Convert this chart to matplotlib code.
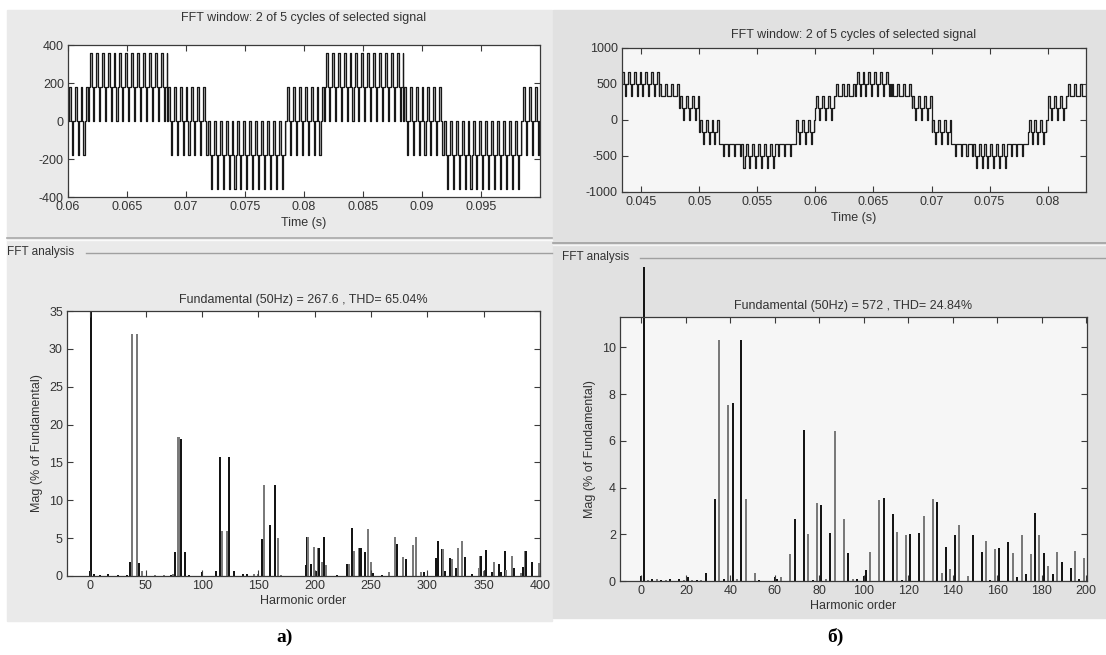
import numpy as np
import matplotlib
matplotlib.use("Agg")
import matplotlib.pyplot as plt
from matplotlib.patches import Rectangle
from matplotlib.lines import Line2D
from matplotlib.transforms import Bbox

W, H = 1106, 655

# ---- panel a) time signal: switching bands (s, V) ----
a_edges = [0.0600, 0.0618, 0.0684, 0.0718, 0.0785, 0.0818, 0.0884, 0.0918, 0.0985, 0.1000]
a_base = [0, 180, 0, -180, 0, 180, 0, -180, 0]
a_up = [180, 360, 180, 0, 180, 360, 180, 0, 180]
a_down = [-180, 0, -180, -360, -180, 0, -180, -360, -180]
a_carrier = 0.0005

# ---- panel b) time signal ----
b_edges = [0.0433, 0.0465, 0.0483, 0.0500, 0.0517, 0.0535, 0.0565, 0.0583, 0.0600,
           0.0617, 0.0635, 0.0665, 0.0683, 0.0700, 0.0717, 0.0735, 0.0765, 0.0783,
           0.0800, 0.0817, 0.0833]
b_base = [500, 330, 165, -165, -330, -500, -330, -165, 165, 330,
          500, 330, 165, -165, -330, -500, -330, -165, 165, 330]
b_up = [660, 500, 330, 0, -330, -330, -330, 0, 330, 500,
        660, 500, 330, 0, -330, -330, -330, 0, 330, 500]
b_down = [330, 330, 0, -330, -500, -660, -500, -330, 0, 330,
          330, 330, 0, -330, -500, -660, -500, -330, 0, 330]
b_carrier = 0.0005

# ---- panel a) spectrum (harmonic order, % of fundamental) ----
a_h = [0, 1, 4, 9, 16, 25, 33, 36, 38, 42, 44, 47, 58, 66, 72, 74, 76, 79, 81, 85, 88,
       100, 112, 116, 118, 122, 124, 128, 136, 140, 146, 150, 153, 155, 160, 165, 167, 170,
       192, 193, 194, 197, 199, 201, 203, 204, 206, 208, 210, 220, 229, 230, 233, 235,
       239, 240, 241, 245, 247, 250, 252, 260, 266, 271, 273, 278, 281, 287, 290, 294, 297,
       308, 309, 313, 314, 316, 320, 322, 325, 327, 331, 333, 340, 346, 347, 348, 350, 351,
       352, 357, 359, 364, 365, 369, 370, 375, 377, 383, 385, 387, 388, 393, 399]
a_mag = [0.6, 100, 0.2, 0.1, 0.2, 0.1, 0.1, 1.8, 32.0, 32.0, 1.7, 0.6, 0.1, 0.1, 0.1, 0.2, 3.2,
         18.3, 18.1, 3.2, 0.1, 0.5, 0.6, 15.7, 6.0, 6.0, 15.7, 0.6, 0.2, 0.2, 0.2, 0.2, 4.9,
         12.0, 6.7, 12.0, 5.0, 0.1, 1.4, 5.1, 5.1, 1.6, 3.8, 0.6, 3.7, 3.7, 1.8, 5.2, 1.4,
         0.1, 1.6, 1.6, 6.3, 3.3, 3.7, 3.7, 3.7, 3.2, 6.2, 1.8, 0.4, 0.1, 0.5, 5.2, 4.2,
         2.5, 2.3, 4.1, 5.2, 0.5, 0.5, 2.4, 4.6, 3.6, 3.6, 0.6, 2.4, 2.3, 1.0, 3.7, 4.6,
         2.5, 0.2, 1.0, 2.7, 2.7, 0.6, 0.8, 3.5, 0.5, 1.8, 1.6, 0.5, 3.3, 0.8, 2.7, 1.1,
         0.4, 1.2, 3.3, 3.3, 1.8, 1.7]

# ---- panel b) spectrum ----
b_h = [0, 1, 3, 5, 7, 9, 11, 13, 17, 19, 21, 23, 25, 27, 29, 33, 35, 37, 39, 41, 43, 45, 47,
       51, 53, 60, 61, 63, 67, 69, 73, 75, 77, 79, 81, 83, 85, 87, 91, 93, 95, 97, 100, 101,
       103, 107, 109, 113, 115, 117, 119, 121, 125, 127, 131, 133, 135, 137, 139, 141, 143,
       147, 149, 153, 155, 157, 159, 161, 165, 167, 169, 171, 173, 175, 177, 179, 181, 183,
       185, 187, 189, 193, 195, 197, 199]
b_mag = [0.2, 100, 0.05, 0.1, 0.1, 0.05, 0.05, 0.1, 0.1, 0.05, 0.15, 0.05, 0.05, 0.05, 0.35,
         3.5, 10.3, 0.1, 7.55, 7.6, 0.1, 10.3, 3.5, 0.35, 0.05, 0.15, 0.1, 0.15, 1.15, 2.65,
         6.45, 2.0, 0.05, 3.35, 3.25, 0.1, 2.05, 6.4, 2.65, 1.2, 0.1, 0.1, 0.2, 0.45, 1.25,
         3.45, 3.55, 2.85, 2.1, 0.05, 1.95, 2.0, 2.05, 2.8, 3.5, 3.4, 0.35, 1.45, 0.5, 1.95,
         2.4, 0.2, 1.95, 1.25, 1.7, 0.05, 1.35, 1.4, 1.65, 1.2, 0.15, 1.95, 0.3, 1.15, 2.9,
         1.95, 1.2, 0.65, 0.3, 1.25, 0.8, 0.55, 1.3, 0.1, 1.0]

TXT = "#333333"
plt.rcParams["font.family"] = ["Liberation Sans", "DejaVu Sans"]
plt.rcParams["axes.unicode_minus"] = False


def ax_rect(x0, y0, x1, y1):
    return [x0 / W, 1 - y1 / H, (x1 - x0) / W, (y1 - y0) / H]


def pulse_wave(edges, base, up, down, tc):
    ts, ys = [], []
    for t0, t1, b, u, d in zip(edges[:-1], edges[1:], base, up, down):
        t = t0
        while t < t1 - 1e-9:
            for frac, lvl in [(0.0, b), (0.12, u), (0.45, b), (0.62, d), (0.80, b)]:
                tt = t + frac * tc
                if tt < t1:
                    ts.append(tt)
                    ys.append(lvl)
            t += tc
    ts.append(edges[-1])
    ys.append(ys[-1])
    return np.array(ts), np.array(ys)


def base_line(edges, base, ts):
    idx = np.searchsorted(edges, ts, side="right") - 1
    idx = np.clip(idx, 0, len(base) - 1)
    return np.array(base)[idx]


def style(ax, face):
    ax.set_facecolor(face)
    for s in ax.spines.values():
        s.set_color("#3a3a3a")
        s.set_linewidth(0.9)
    ax.tick_params(direction="in", length=4, width=0.8, top=True, right=True,
                   colors="#3a3a3a", labelcolor=TXT, labelsize=9, pad=3)


def panel_bg(fig, x0, y0, x1, y1, color):
    fig.patches.append(Rectangle((x0 / W, 1 - y1 / H), (x1 - x0) / W, (y1 - y0) / H,
                                 transform=fig.transFigure, color=color, zorder=-10))


def hline(fig, x0, x1, y, color, lw=1.0):
    fig.lines.append(Line2D([x0 / W, x1 / W], [1 - y / H, 1 - y / H],
                            transform=fig.transFigure, color=color, lw=lw))


fig = plt.figure(figsize=(W / 100, H / 100), dpi=100)
fig.patch.set_facecolor("white")

panel_bg(fig, 7, 10, 552, 621, "#eaeaea")
panel_bg(fig, 553, 10, 1106, 618, "#e1e1e1")

# separators and "FFT analysis" frames
hline(fig, 7, 552, 238, "#a8a8a8", 1.2)
hline(fig, 7, 552, 240, "#fafafa", 1.0)
hline(fig, 553, 1106, 243, "#a0a0a0", 1.2)
hline(fig, 553, 1106, 245, "#f5f5f5", 1.0)
fig.text(7 / W, 1 - 252 / H, "FFT analysis", fontsize=8.5, color=TXT, va="center", ha="left")
hline(fig, 86, 552, 253, "#a0a0a0", 1.0)
fig.text(562 / W, 1 - 257 / H, "FFT analysis", fontsize=8.5, color=TXT, va="center", ha="left")
hline(fig, 640, 1106, 258, "#a0a0a0", 1.0)

# ---- a) time plot ----
ax1 = fig.add_axes(ax_rect(68, 45, 540, 197))
style(ax1, "white")
ta, ya = pulse_wave(a_edges, a_base, a_up, a_down, a_carrier)
ax1.fill_between(ta, ya, base_line(a_edges, a_base, ta), step="post", color="#b4b4b4", lw=0)
ax1.step(ta, ya, where="post", color="#181818", lw=0.9)
ax1.set_xlim(0.06, 0.1)
ax1.set_ylim(-400, 400)
ax1.set_xticks([0.06, 0.065, 0.07, 0.075, 0.08, 0.085, 0.09, 0.095])
ax1.set_xticklabels(["0.06", "0.065", "0.07", "0.075", "0.08", "0.085", "0.09", "0.095"])
ax1.set_yticks([-400, -200, 0, 200, 400])
ax1.set_title("FFT window: 2 of 5 cycles of selected signal", fontsize=9, color=TXT, pad=17)
ax1.set_xlabel("Time (s)", fontsize=9, color=TXT, labelpad=3)

# ---- b) time plot ----
ax2 = fig.add_axes(ax_rect(622, 48, 1086, 192))
style(ax2, "#f6f6f6")
tb, yb = pulse_wave(b_edges, b_base, b_up, b_down, b_carrier)
ax2.fill_between(tb, yb, base_line(b_edges, b_base, tb), step="post", color="#c4c4c4", lw=0)
ax2.step(tb, yb, where="post", color="#1c1c1c", lw=0.9)
ax2.set_xlim(0.04335, 0.0833)
ax2.set_ylim(-1000, 1000)
ax2.set_xticks([0.045, 0.05, 0.055, 0.06, 0.065, 0.07, 0.075, 0.08])
ax2.set_xticklabels(["0.045", "0.05", "0.055", "0.06", "0.065", "0.07", "0.075", "0.08"])
ax2.set_yticks([-1000, -500, 0, 500, 1000])
ax2.set_title("FFT window: 2 of 5 cycles of selected signal", fontsize=9, color=TXT, pad=7)
ax2.set_xlabel("Time (s)", fontsize=9, color=TXT, labelpad=3)

bar_cols = ["#151515", "#7a7a7a"]

# ---- a) spectrum ----
ax3 = fig.add_axes(ax_rect(67, 311, 540, 576))
style(ax3, "white")
ca = [bar_cols[(h // 2) % 2] for h in a_h]
ax3.bar(a_h, a_mag, width=1.8, color=ca, edgecolor="none")
ax3.set_xlim(-20, 400)
ax3.set_ylim(0, 35)
ax3.set_xticks(range(0, 401, 50))
ax3.set_yticks(range(0, 36, 5))
ax3.set_title("Fundamental (50Hz) = 267.6 , THD= 65.04%", fontsize=9, color=TXT, pad=6)
ax3.set_xlabel("Harmonic order", fontsize=9, color=TXT, labelpad=2)
ax3.set_ylabel("Mag (% of Fundamental)", fontsize=9, color=TXT, labelpad=4)

# ---- b) spectrum ----
ax4 = fig.add_axes(ax_rect(620, 317, 1087, 581))
style(ax4, "#f6f6f6")
cb = [bar_cols[(h // 2) % 2] for h in b_h]
bars = ax4.bar(b_h, b_mag, width=0.9, color=cb, edgecolor="none")
ax4.set_xlim(-9.6, 200.4)
ax4.set_ylim(0, 11.3)
ax4.set_xticks(range(0, 201, 20))
ax4.set_yticks(range(0, 11, 2))
ax4.set_title("Fundamental (50Hz) = 572 , THD= 24.84%", fontsize=9, color=TXT, pad=6)
ax4.set_xlabel("Harmonic order", fontsize=9, color=TXT, labelpad=2)
ax4.set_ylabel("Mag (% of Fundamental)", fontsize=9, color=TXT, labelpad=4)
# fundamental bar runs past the top of the axes in the original screenshot
fund = bars[b_h.index(1)]
fund.set_clip_on(True)
fund.set_clip_box(Bbox([[0, 0], [W, H - 267]]))

fig.text(285 / W, 1 - 637 / H, "а)", fontsize=14, fontweight="bold",
         family="Liberation Serif", ha="center", va="center")
fig.text(835 / W, 1 - 637 / H, "б)", fontsize=14, fontweight="bold",
         family="Liberation Serif", ha="center", va="center")

fig.savefig("out.png", dpi=100)
